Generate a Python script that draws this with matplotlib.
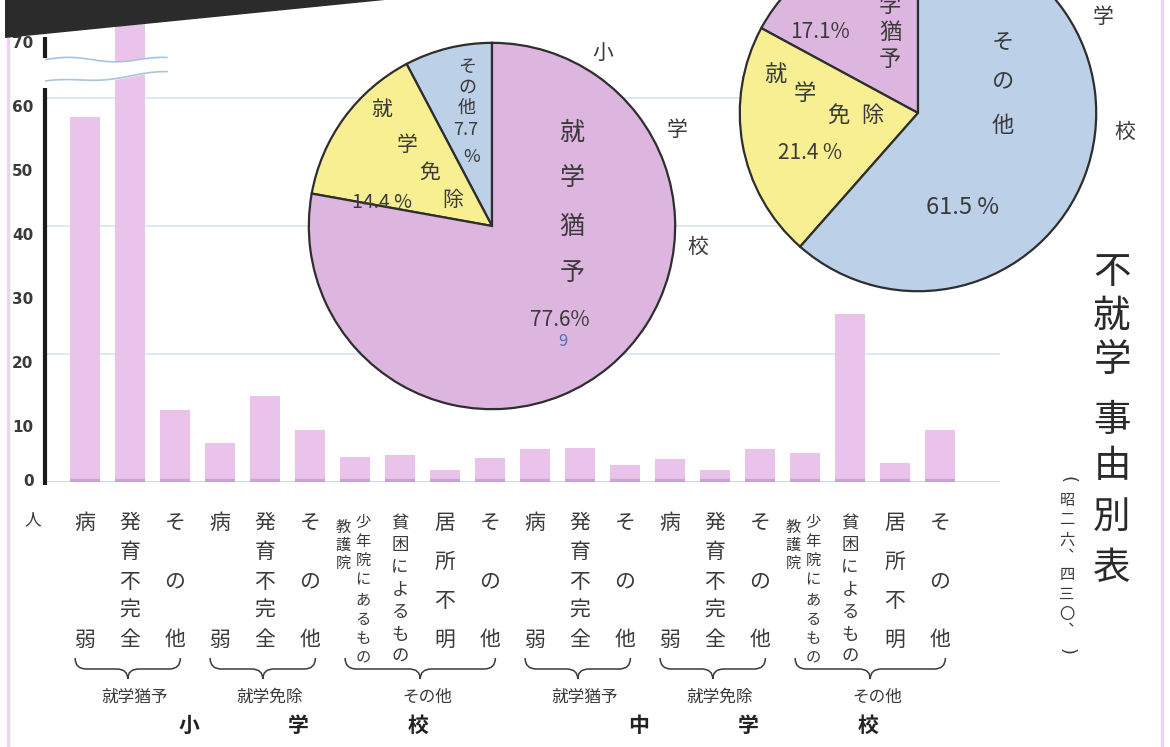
import numpy as np
import matplotlib
matplotlib.use("Agg")
import matplotlib.pyplot as plt
import matplotlib.transforms as mtransforms
from matplotlib.path import Path
from matplotlib.patches import PathPatch, Polygon
from matplotlib.lines import Line2D

plt.rcParams['font.family'] = ['Noto Sans CJK JP', 'DejaVu Sans']

W, H = 1170, 747

# 不就学者数 (人): 小学校 10項目, 中学校 10項目
reasons = ["病弱", "発育不完全", "その他", "病弱", "発育不完全", "その他",
           "少年院教護院にあるもの", "貧困によるもの", "居所不明", "その他"]
groups = ["就学猶予", "就学免除", "その他"]
group_sizes = [3, 3, 4]
elem_counts = [57.1, 78, 11.2, 6.1, 13.4, 8.2, 3.9, 4.2, 1.9, 3.8]
middle_counts = [5.2, 5.3, 2.6, 3.6, 1.9, 5.1, 4.5, 26.3, 3.0, 8.1]
y_ticks = [0, 10, 20, 30, 40, 50, 60, 70]

# 事由別構成比 (%)
elem_pie_labels = ["その他", "就学免除", "就学猶予"]
elem_pie_pct = [7.7, 14.4, 77.6]
middle_pie_labels = ["就学猶予", "就学免除", "その他"]
middle_pie_pct = [17.1, 21.4, 61.5]

BAR_PINK = "#E9C3EA"
PIE_COLORS = {"就学猶予": "#DDB6DF", "就学免除": "#F8EE92", "その他": "#BCD0E8"}
INK = "#3a3a3a"


def px_rect(left, top, width, height):
    return [left / W, 1 - (top + height) / H, width / W, height / H]


def fig_xy(px, py):
    return px / W, 1 - py / H


fig = plt.figure(figsize=(W / 100, H / 100), dpi=100)
fig.patch.set_facecolor("white")

# ---- bar chart ----
PX_PER_UNIT = 6.4
ax = fig.add_axes(px_rect(45, 0, 955, 482))
ax.set_ylim(0, 482 / PX_PER_UNIT)
ax.set_xlim(-40 / 45, 915 / 45)
for s in ax.spines.values():
    s.set_visible(False)
ax.set_xticks([])
ax.set_yticks([])

counts = elem_counts + middle_counts
x = np.arange(len(counts))
bw = 30 / 45

for g in (20, 40, 60):
    ax.axhline(g, color="#D8E5F2", lw=1.2, zorder=1)
ax.axhline(0, color="#C6D5EA", lw=1.3, zorder=1)

ax.bar(x, counts, width=bw, color=BAR_PINK, zorder=2)
ax.hlines(np.full(len(x), 0.2), x - bw / 2, x + bw / 2, color="#C9A3D6",
          lw=3, zorder=3)

# y axis with a break above 60
yax = mtransforms.blended_transform_factory(ax.transAxes, ax.transData)
ax.plot([0, 0], [-0.4, 61.6], color="#1a1a1a", lw=3, transform=yax,
        clip_on=False, zorder=6, solid_capstyle="butt")
ax.plot([0, 0], [66.2, 69.6], color="#1a1a1a", lw=3, transform=yax,
        clip_on=False, zorder=6, solid_capstyle="butt")
for v in y_ticks:
    ax.text(-0.012, v - (1.5 if v else 0), str(v), transform=yax,
            ha="right", va="center", fontsize=11, color=INK,
            family="DejaVu Sans", fontweight="bold")

t = np.linspace(0, 1, 120)
xw = -40 / 45 + t * (122 / 45)
upper = 66.0 + 0.35 * np.sin(t * 2.6 * np.pi)
lower = 62.4 + 1.5 * t + 0.3 * np.sin(t * 2.4 * np.pi + 1.0)
ax.fill_between(xw, lower, upper, color="white", zorder=4)
ax.plot(xw, upper, color="#A8C5DF", lw=1.2, zorder=5)
ax.plot(xw, lower, color="#A8C5DF", lw=1.2, zorder=5)

fig.text(*fig_xy(33, 520), "人", fontsize=12, color=INK, ha="center", va="center")

# category labels under the bars, written vertically
lab_tr = mtransforms.blended_transform_factory(ax.transData, fig.transFigure)


def vchars(xd, chars, y0, y1, size):
    ys = np.linspace(y0, y1, len(chars)) if len(chars) > 1 else [y0]
    for ch, py in zip(chars, ys):
        ax.text(xd, 1 - py / H, ch, transform=lab_tr, ha="center", va="center",
                fontsize=size, color=INK)


for i, s in enumerate(reasons * 2):
    if s.startswith("少年院"):
        vchars(i + 8 / 45, "少年院にあるもの", 522, 658, 11)
        vchars(i - 12 / 45, "教護院", 527, 563, 11)
    elif s == "貧困によるもの":
        vchars(i, s, 523, 657, 12.5)
    else:
        vchars(i, s, 523, 640, 15)


def brace(x0, x1, top, mid, tip):
    xm = (x0 + x1) / 2
    q = 0.25
    ty, my, py = 1 - top / H, 1 - mid / H, 1 - tip / H
    verts = [(x0, ty), (x0, my), (x0 + q, my), (xm - q, my),
             (xm, my), (xm, py), (xm, my), (xm + q, my),
             (x1 - q, my), (x1, my), (x1, ty)]
    codes = [Path.MOVETO, Path.CURVE3, Path.CURVE3, Path.LINETO,
             Path.CURVE3, Path.CURVE3, Path.CURVE3, Path.CURVE3,
             Path.LINETO, Path.CURVE3, Path.CURVE3]
    ax.add_patch(PathPatch(Path(verts, codes), transform=lab_tr, fill=False,
                           edgecolor=INK, lw=1.1, clip_on=False))


for school, names in ((0, "小学校"), (10, "中学校")):
    start = school
    for gname, n in zip(groups, group_sizes):
        first, last = start, start + n - 1
        brace(first - 0.22, last + 0.12, 658, 669, 679)
        ax.text((first + last) / 2 + 0.1, 1 - 697 / H, gname, transform=lab_tr,
                ha="center", va="center", fontsize=12, color=INK)
        start += n
    for ch, off in zip(names, (2.3, 4.75, 7.4)):
        ax.text(school + off, 1 - 725 / H, ch, transform=lab_tr, ha="center",
                va="center", fontsize=15, fontweight="bold", color="#222")

# ---- pie charts ----
def pie(cx, cy, r, labels, pct):
    pax = fig.add_axes(px_rect(cx - r, cy - r, 2 * r, 2 * r))
    pax.pie(pct, colors=[PIE_COLORS[l] for l in labels], startangle=90,
            counterclock=True,
            wedgeprops=dict(edgecolor="#2e2e2e", linewidth=1.6))
    pax.set_xlim(-1.01, 1.01)
    pax.set_ylim(-1.01, 1.01)
    pax.set_aspect("equal")
    pax.axis("off")
    return pax


pie(492, 226, 185, elem_pie_labels, elem_pie_pct)
pie(918, 113, 180, middle_pie_labels, middle_pie_pct)


def ftext(px, py, s, size, **kw):
    kw.setdefault("color", INK)
    fig.text(*fig_xy(px, py), s, fontsize=size, ha="center", va="center", **kw)


# 小学校
for ch, py in zip("就学猶予", (133, 178, 227, 273)):
    ftext(572, py, ch, 18)
ftext(560, 320, f"{elem_pie_pct[2]}%", 15)
ftext(563, 342, "9", 12, color="#5a6bb0")
for ch, (px, py) in zip("就学免除", ((382, 110), (407, 145), (430, 173), (453, 200))):
    ftext(px, py, ch, 15)
ftext(382, 202, f"{elem_pie_pct[1]} %", 14)
for ch, py in zip("その他", (67, 88, 108)):
    ftext(467, py, ch, 13)
ftext(466, 130, f"{elem_pie_pct[0]}", 13)
ftext(472, 157, "%", 13)
for ch, (px, py) in zip("小学校", ((603, 53), (677, 130), (698, 247))):
    ftext(px, py, ch, 15)

# 中学校 (upper part runs past the top edge)
ftext(820, 32, f"{middle_pie_pct[0]}%", 15)
for ch, py in zip("学猶予", (5, 32, 60)):
    ftext(890, py, ch, 16)
for ch, (px, py) in zip("就学免除", ((775, 75), (805, 93), (838, 115), (872, 115))):
    ftext(px, py, ch, 16)
ftext(810, 153, f"{middle_pie_pct[1]} %", 15)
for ch, py in zip("その他", (43, 82, 125)):
    ftext(1003, py, ch, 16)
ftext(963, 208, f"{middle_pie_pct[2]} %", 17)
for ch, (px, py) in zip("学校", ((1103, 17), (1125, 132))):
    ftext(px, py, ch, 15)

# title, vertical
for ch, py in zip("不就学事由別表", (273, 316, 360, 420, 467, 517, 568)):
    ftext(1112, py, ch, 27, color="#2a2a2a")
ftext(1067, 480, "(", 13, rotation=-90, family="DejaVu Sans")
for ch, py in zip("昭二六︑四三〇︑", (500, 520, 540, 557, 575, 594, 614, 631)):
    ftext(1067, py, ch, 11)
ftext(1067, 651, ")", 13, rotation=-90, family="DejaVu Sans")

# page decorations
fig.patches.append(Polygon([fig_xy(5, 0), fig_xy(385, 0), fig_xy(5, 38)],
                           closed=True, transform=fig.transFigure,
                           facecolor="#2b2b2b", edgecolor="none", zorder=10))
for px in (8, 1162):
    fig.add_artist(Line2D([px / W, px / W], [0, 1], transform=fig.transFigure,
                          color="#EBD5EE", lw=2.5, zorder=0))

fig.savefig("out.png", dpi=100, facecolor="white")
